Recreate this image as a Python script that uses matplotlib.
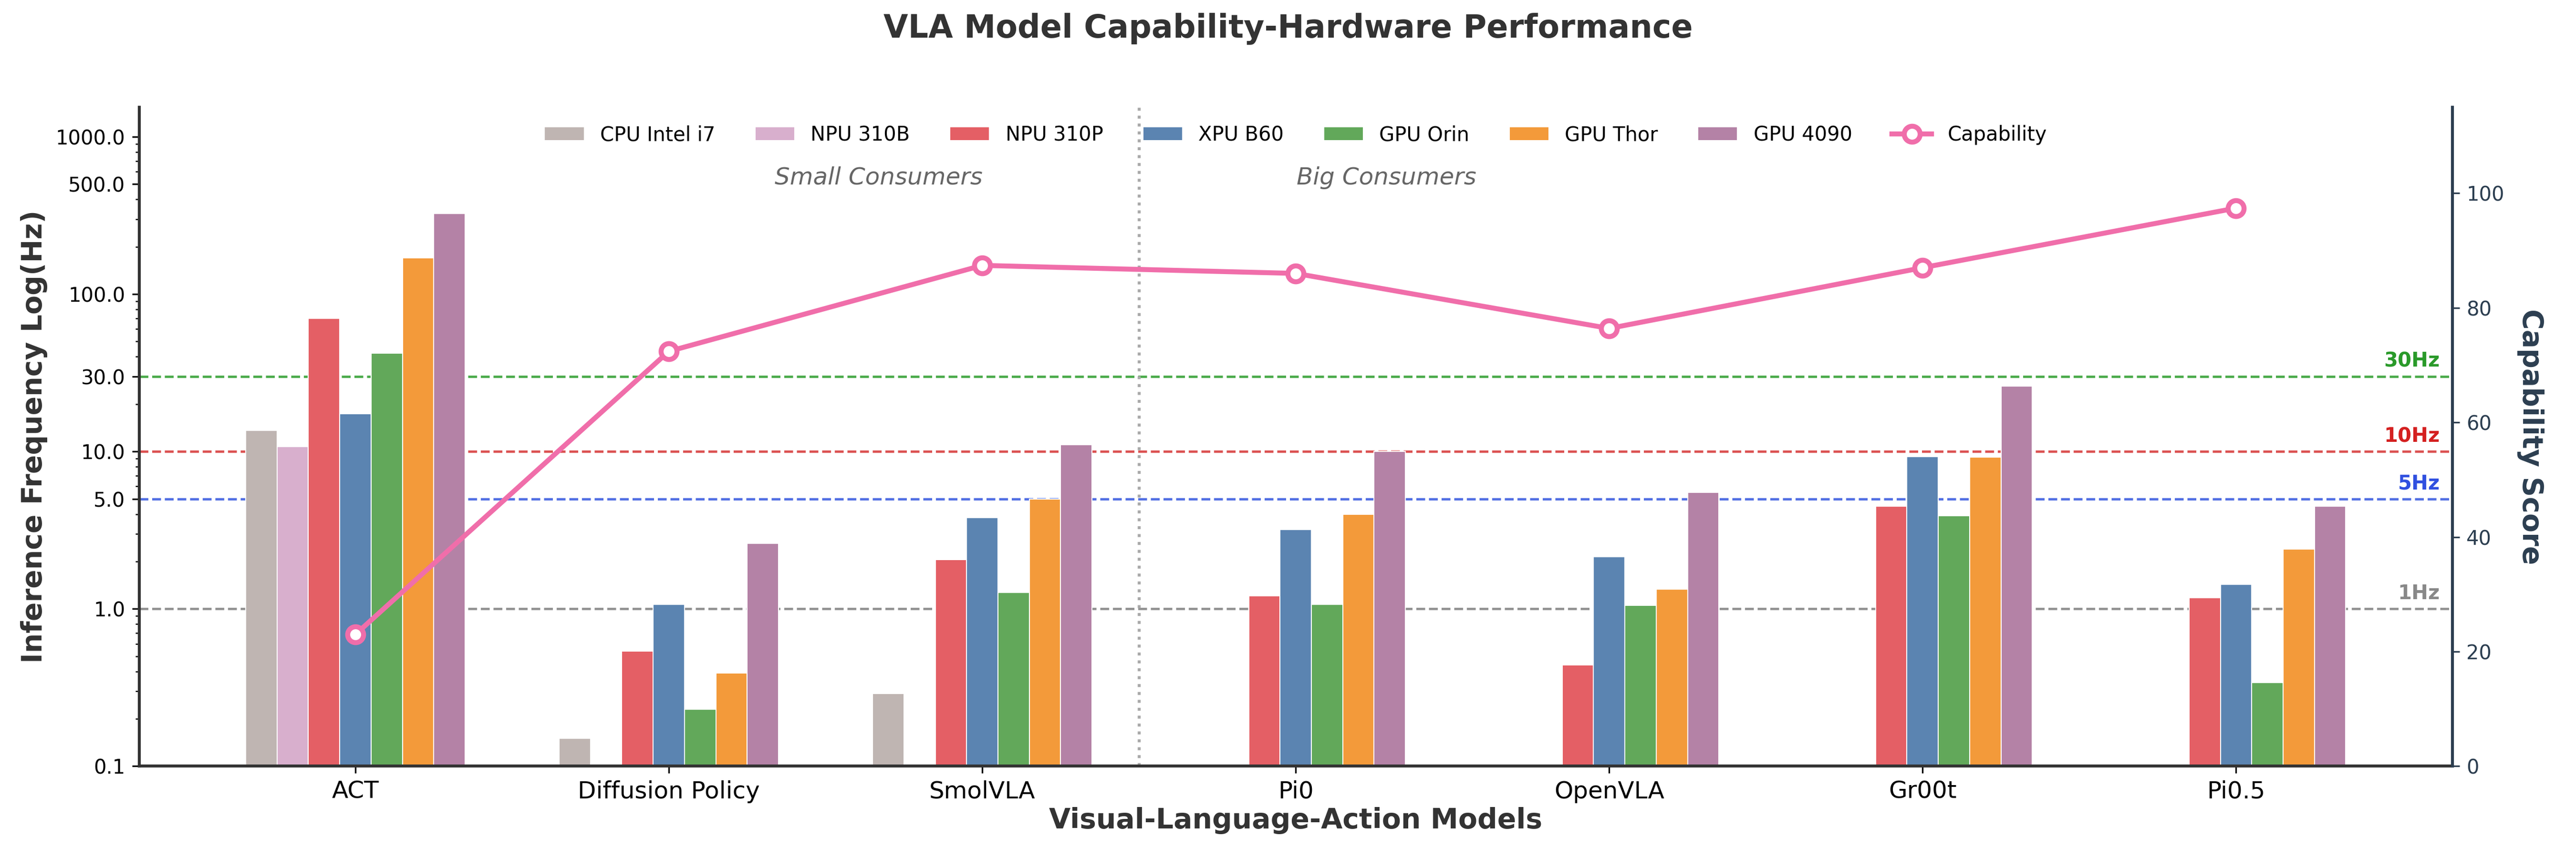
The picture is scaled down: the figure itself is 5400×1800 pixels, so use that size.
import matplotlib
matplotlib.use("Agg")
import matplotlib.pyplot as plt
import numpy as np

models = ["ACT", "Diffusion Policy", "SmolVLA", "Pi0", "OpenVLA", "Gr00t", "Pi0.5"]
series = ["CPU Intel i7", "NPU 310B", "NPU 310P", "XPU B60", "GPU Orin", "GPU Thor", "GPU 4090"]
colors = ["#bfb5b2", "#d8afcd", "#e45f65", "#5b84b1", "#62a85a", "#f39a3a", "#b482a6"]
nan = np.nan
cpu_i7   = [13.6, 0.15, 0.29, nan, nan, nan, nan]
npu_310b = [10.7, nan, nan, nan, nan, nan, nan]
npu_310p = [70, 0.54, 2.05, 1.21, 0.44, 4.5, 1.18]
xpu_b60  = [17.4, 1.07, 3.8, 3.2, 2.15, 9.3, 1.43]
gpu_orin = [42, 0.23, 1.27, 1.07, 1.05, 3.9, 0.34]
gpu_thor = [170, 0.39, 5.0, 4.0, 1.33, 9.2, 2.4]
gpu_4090 = [325, 2.6, 11, 10, 5.5, 26, 4.5]
capability = [23, 72.4, 87.4, 86, 76.4, 87, 97.4]
hz_lines = [30, 10, 5, 1]
hz_labels = ["30Hz", "10Hz", "5Hz", "1Hz"]
hz_colors = ["#3aa33a", "#d84040", "#4060e0", "#888888"]
hz_text_colors = ["#2a9a2a", "#d42020", "#3050e0", "#888888"]
yticks = [0.1, 1.0, 5.0, 10.0, 30.0, 100.0, 500.0, 1000.0]

data = [cpu_i7, npu_310b, npu_310p, xpu_b60, gpu_orin, gpu_thor, gpu_4090]

fig = plt.figure(figsize=(18, 6), dpi=300)
ax = fig.add_axes([0.054, 0.107, 0.898, 0.768])
x = np.arange(len(models))
w = 0.1
for i, (s, c, d) in enumerate(zip(series, colors, data)):
    ax.bar(x + (i - 3) * w, d, w, color=c, label=s, edgecolor="white", linewidth=0.5, zorder=2)

ax.set_yscale("log")
ax.set_ylim(0.1, 1540)
ax.set_xlim(-0.69, 6.69)
ax.set_yticks(yticks)
ax.set_yticklabels([f"{t:.1f}" for t in yticks])
ax.tick_params(axis="y", labelsize=10)
ax.set_xticks(x)
ax.set_xticklabels(models, fontsize=12)
for v, l, c, tc in zip(hz_lines, hz_labels, hz_colors, hz_text_colors):
    ax.axhline(v, color=c, linestyle="--", linewidth=1.2, alpha=0.9, zorder=1)
    ax.text(6.65, v * 1.08, l, color=tc, fontsize=10, fontweight="bold", ha="right", va="bottom")
ax.axvline(2.5, color="#aaaaaa", linestyle=":", linewidth=1.5)
ax.text(1.67, 550, "Small Consumers", fontsize=12, style="italic", color="#666666", ha="center", va="center")
ax.text(3.29, 550, "Big Consumers", fontsize=12, style="italic", color="#666666", ha="center", va="center")
ax.set_ylabel("Inference Frequency Log(Hz)", fontsize=14, fontweight="bold", color="#333333")
ax.set_xlabel("Visual-Language-Action Models", fontsize=14, fontweight="bold", color="#333333", labelpad=2)
ax.spines["top"].set_visible(False)
ax.spines["right"].set_visible(False)
ax.spines["left"].set_linewidth(1.5)
ax.spines["bottom"].set_linewidth(1.5)
ax.spines["left"].set_color("#333333")
ax.spines["bottom"].set_color("#333333")

ax2 = ax.twinx()
ax2.plot(x, capability, color="#f06eaa", linewidth=2.5, marker="o", markersize=8,
         markerfacecolor="white", markeredgewidth=2.5, label="Capability", zorder=5)
ax2.set_ylim(0, 115)
ax2.set_yticks([0, 20, 40, 60, 80, 100])
ax2.tick_params(axis="y", labelsize=10, colors="#2c3e50")
ax2.set_ylabel("Capability Score", fontsize=14, fontweight="bold", color="#2c3e50", rotation=270, labelpad=20)
ax2.spines["top"].set_visible(False)
ax2.spines["left"].set_visible(False)
ax2.spines["bottom"].set_visible(False)
ax2.spines["right"].set_color("#2c3e50")
ax2.spines["right"].set_linewidth(1.5)

h1, l1 = ax.get_legend_handles_labels()
h2, l2 = ax2.get_legend_handles_labels()
ax.legend(h1 + h2, l1 + l2, loc="upper center", bbox_to_anchor=(0.5, 1.0), ncol=8, frameon=False, fontsize=10, columnspacing=2.0)

fig.suptitle("VLA Model Capability-Hardware Performance", fontsize=16, fontweight="bold", color="#333333", y=0.985)
fig.savefig("out.png", dpi=300)
